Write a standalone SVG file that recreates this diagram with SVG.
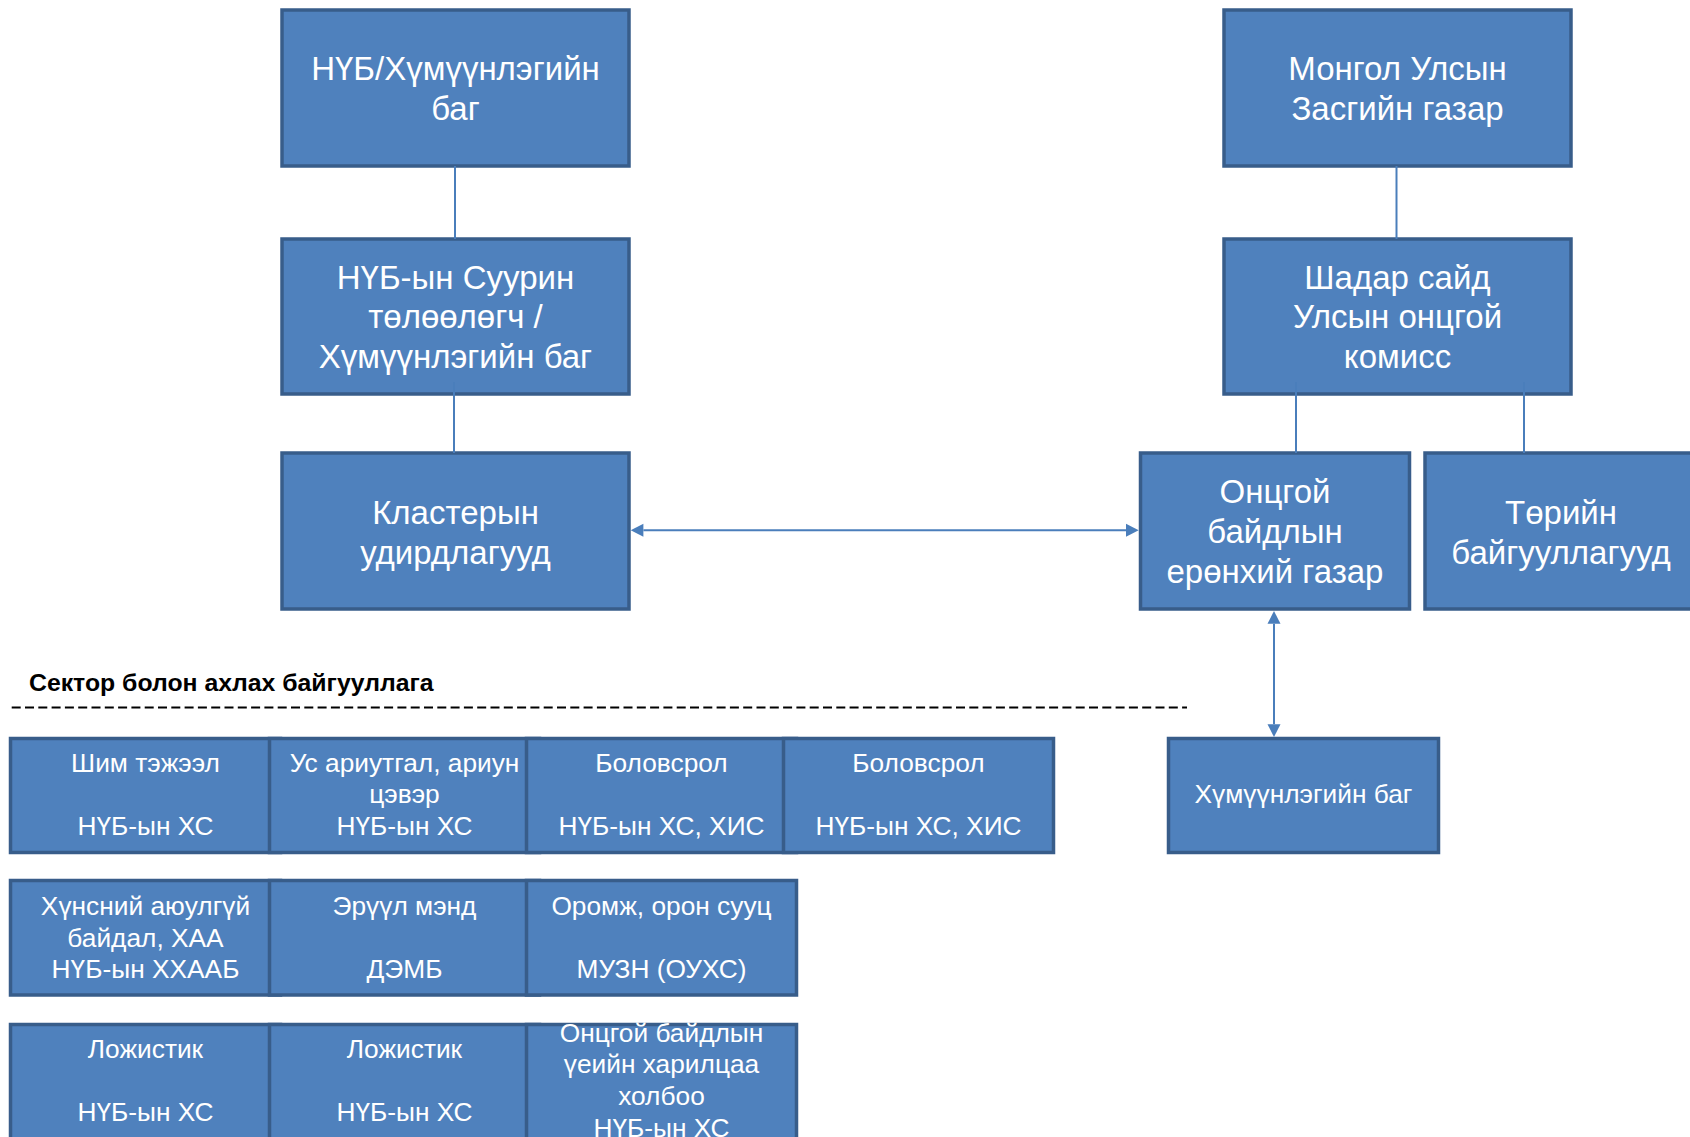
<svg xmlns="http://www.w3.org/2000/svg" width="1690" height="1137" viewBox="0 0 1690 1137">
<style>
.box{fill:#4F81BD;stroke:#385D8A;stroke-width:3.5}
.t{font-family:"Liberation Sans",Arial,sans-serif;fill:#FFFFFF;text-anchor:middle}
.big{font-size:33px}
.sm{font-size:26.3px}
.conn{stroke:#4A7EBB;stroke-width:2;fill:none}
.title{font-family:"Liberation Sans",Arial,sans-serif;font-size:24.8px;font-weight:bold;fill:#000000}
</style>
<defs>
<marker id="ah" markerUnits="userSpaceOnUse" markerWidth="14" markerHeight="14" viewBox="0 -7 13 14" refX="0" refY="0" orient="auto-start-reverse">
<path d="M0,-6.5 L12.7,0 L0,6.5 z" fill="#4A7EBB"/>
</marker>
</defs>
<rect width="1690" height="1137" fill="#FFFFFF"/>

<g id="node-nub-humuun">
<rect class="box" x="282" y="10" width="347" height="156"/>
<text class="t big"><tspan x="455.5" y="79.5">НҮБ/Хүмүүнлэгийн</tspan><tspan x="455.5" y="119.5">баг</tspan></text>
</g>
<g id="node-nub-suurin">
<rect class="box" x="282" y="239" width="347" height="155"/>
<text class="t big"><tspan x="455.5" y="288.5">НҮБ-ын Суурин</tspan><tspan x="455.5" y="328.4">төлөөлөгч /</tspan><tspan x="455.5" y="368.3">Хүмүүнлэгийн баг</tspan></text>
</g>
<g id="node-cluster">
<rect class="box" x="282" y="453" width="347" height="156"/>
<text class="t big"><tspan x="455.5" y="524">Кластерын</tspan><tspan x="455.5" y="564">удирдлагууд</tspan></text>
</g>
<g id="node-mongol">
<rect class="box" x="1224" y="10" width="347" height="156"/>
<text class="t big"><tspan x="1397.5" y="79.5">Монгол Улсын</tspan><tspan x="1397.5" y="119.5">Засгийн газар</tspan></text>
</g>
<g id="node-shadar">
<rect class="box" x="1224" y="239" width="347" height="155"/>
<text class="t big"><tspan x="1397.5" y="288.5">Шадар сайд</tspan><tspan x="1397.5" y="328.4">Улсын онцгой</tspan><tspan x="1397.5" y="368.3">комисс</tspan></text>
</g>
<g id="node-ontsgoi">
<rect class="box" x="1140.5" y="453" width="269" height="156"/>
<text class="t big"><tspan x="1275" y="503">Онцгой</tspan><tspan x="1275" y="543">байдлын</tspan><tspan x="1275" y="583">ерөнхий газар</tspan></text>
</g>
<g id="node-turiin">
<rect class="box" x="1425" y="453" width="272" height="156"/>
<text class="t big"><tspan x="1561" y="524">Төрийн</tspan><tspan x="1561" y="564">байгууллагууд</tspan></text>
</g>
<g id="node-humuun-bag">
<rect class="box" x="1168.5" y="738.5" width="270" height="114"/>
<text class="t sm" x="1303.5" y="803.3">Хүмүүнлэгийн баг</text>
</g>

<g id="sector-title">
<text class="title" x="29" y="691">Сектор болон ахлах байгууллага</text>
<line x1="11.7" y1="707.5" x2="1187" y2="707.5" stroke="#000000" stroke-width="2" stroke-dasharray="9 4.3"/>
</g>

<g id="row1">
<g id="cell-shim">
<rect class="box" x="10.5" y="738.5" width="270" height="114"/>
<text class="t sm"><tspan x="145.5" y="771.7">Шим тэжээл</tspan><tspan x="145.5" y="835">НҮБ-ын ХС</tspan></text>
</g>
<g id="cell-us">
<rect class="box" x="269.5" y="738.5" width="270" height="114"/>
<text class="t sm"><tspan x="404.5" y="771.7">Ус ариутгал, ариун</tspan><tspan x="404.5" y="803.4">цэвэр</tspan><tspan x="404.5" y="835">НҮБ-ын ХС</tspan></text>
</g>
<g id="cell-bolovsrol1">
<rect class="box" x="526.5" y="738.5" width="270" height="114"/>
<text class="t sm"><tspan x="661.5" y="771.7">Боловсрол</tspan><tspan x="661.5" y="835">НҮБ-ын ХС, ХИС</tspan></text>
</g>
<g id="cell-bolovsrol2">
<rect class="box" x="783.5" y="738.5" width="270" height="114"/>
<text class="t sm"><tspan x="918.5" y="771.7">Боловсрол</tspan><tspan x="918.5" y="835">НҮБ-ын ХС, ХИС</tspan></text>
</g>
</g>

<g id="row2">
<g id="cell-hunsnii">
<rect class="box" x="10.5" y="880.5" width="270" height="114.5"/>
<text class="t sm"><tspan x="145.5" y="915">Хүнсний аюулгүй</tspan><tspan x="145.5" y="946.7">байдал, ХАА</tspan><tspan x="145.5" y="978.3">НҮБ-ын ХХААБ</tspan></text>
</g>
<g id="cell-eruul">
<rect class="box" x="269.5" y="880.5" width="270" height="114.5"/>
<text class="t sm"><tspan x="404.5" y="915">Эрүүл мэнд</tspan><tspan x="404.5" y="978.3">ДЭМБ</tspan></text>
</g>
<g id="cell-oromj">
<rect class="box" x="526.5" y="880.5" width="270" height="114.5"/>
<text class="t sm"><tspan x="661.5" y="915">Оромж, орон сууц</tspan><tspan x="661.5" y="978.3">МУЗН (ОУХС)</tspan></text>
</g>
</g>

<g id="row3">
<g id="cell-logistic1">
<rect class="box" x="10.5" y="1024.5" width="270" height="115"/>
<text class="t sm"><tspan x="145.5" y="1057.7">Ложистик</tspan><tspan x="145.5" y="1121">НҮБ-ын ХС</tspan></text>
</g>
<g id="cell-logistic2">
<rect class="box" x="269.5" y="1024.5" width="270" height="115"/>
<text class="t sm"><tspan x="404.5" y="1057.7">Ложистик</tspan><tspan x="404.5" y="1121">НҮБ-ын ХС</tspan></text>
</g>
<g id="cell-holboo">
<rect class="box" x="526.5" y="1024.5" width="270" height="115"/>
<text class="t sm"><tspan x="661.5" y="1041.5">Онцгой байдлын</tspan><tspan x="661.5" y="1073.2">үеийн харилцаа</tspan><tspan x="661.5" y="1104.9">холбоо</tspan><tspan x="661.5" y="1136.6">НҮБ-ын ХС</tspan></text>
</g>
</g>

<g id="connectors">
<line class="conn" x1="455" y1="166" x2="455" y2="239"/>
<line class="conn" x1="454" y1="382" x2="454" y2="453"/>
<line class="conn" x1="1396.5" y1="166" x2="1396.5" y2="239"/>
<line class="conn" x1="1296" y1="382" x2="1296" y2="453"/>
<line class="conn" x1="1524" y1="382" x2="1524" y2="453"/>
<line class="conn" x1="643.4" y1="530.3" x2="1126" y2="530.3" marker-start="url(#ah)" marker-end="url(#ah)"/>
<line class="conn" x1="1274" y1="623.7" x2="1274" y2="724.3" marker-start="url(#ah)" marker-end="url(#ah)"/>
</g>
</svg>
